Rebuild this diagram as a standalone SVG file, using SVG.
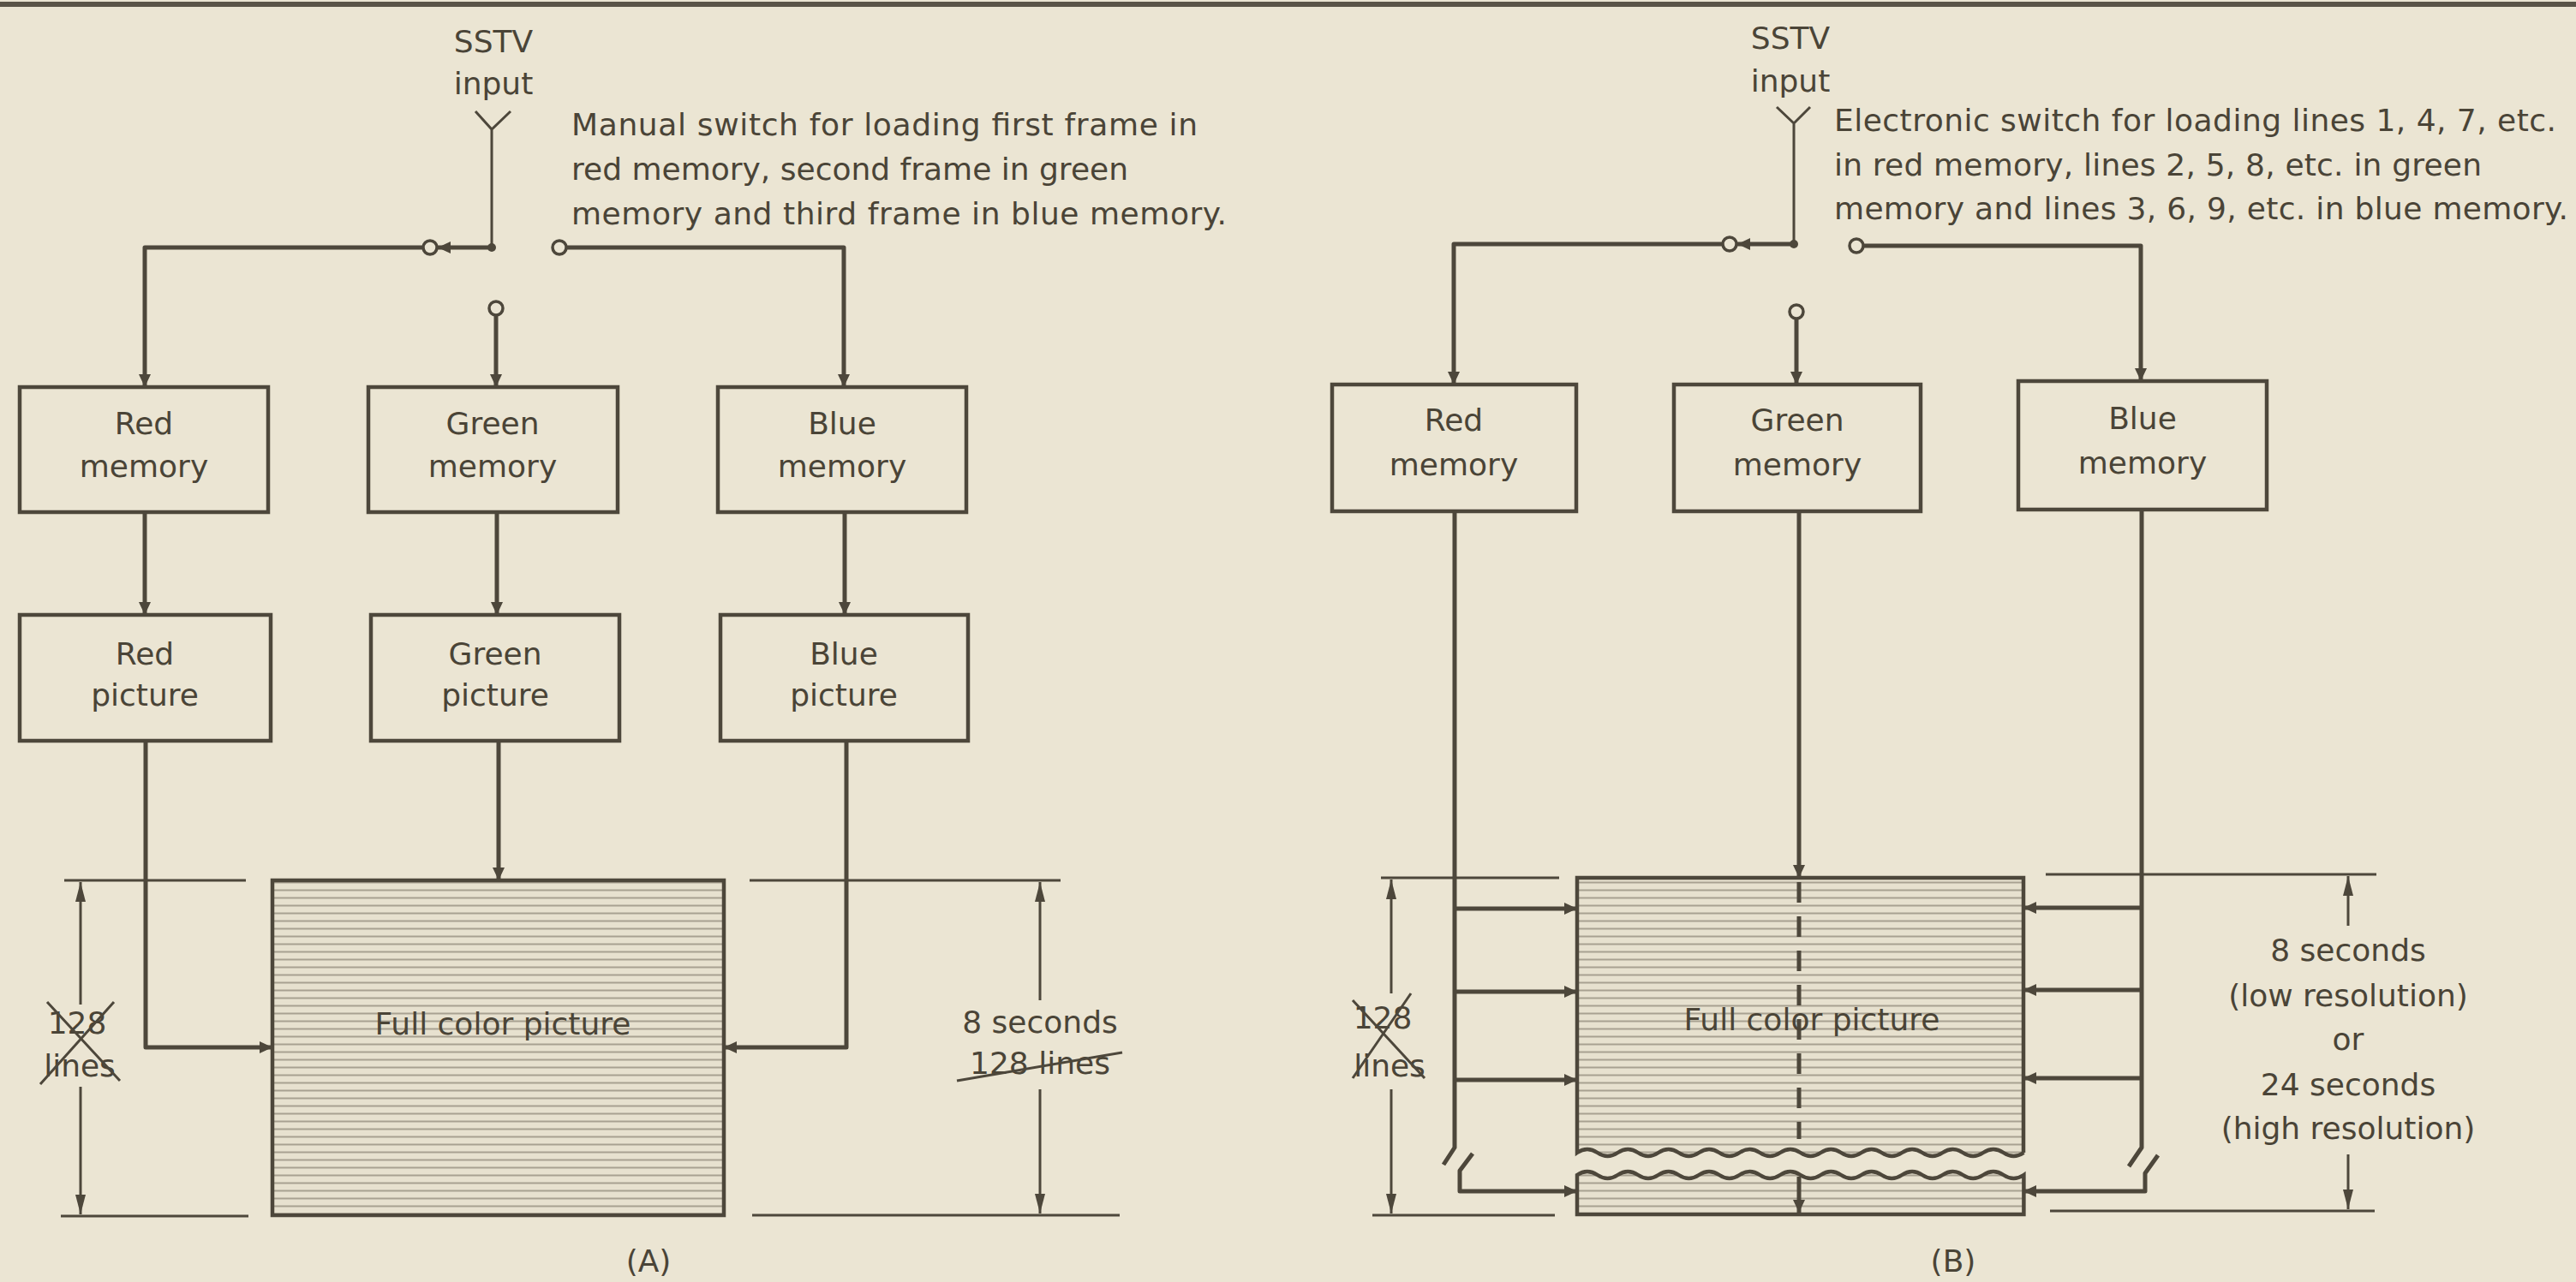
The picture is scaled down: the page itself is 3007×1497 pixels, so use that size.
<svg xmlns="http://www.w3.org/2000/svg" width="3007" height="1497" viewBox="0 0 3007 1497">
<style>
.ln{stroke:#4d473b;fill:none;stroke-width:5;stroke-linejoin:round}
.thin{stroke:#4d473b;fill:none;stroke-width:3}
.box{fill:none;stroke:#4d473b;stroke-width:4.5}
.full{fill:url(#hatch);stroke:#4d473b;stroke-width:4.5}
.ct{fill:#ebe5d3;stroke:#4d473b;stroke-width:3.5}
text{font-family:"DejaVu Sans","Liberation Sans",sans-serif;font-size:36px;fill:#4a4437}
.c{text-anchor:middle}
</style>
<defs>
<marker id="arr" markerUnits="userSpaceOnUse" markerWidth="16" markerHeight="14" refX="15" refY="7" orient="auto"><path d="M0,0 L15,7 L0,14 z" fill="#4d473b"/></marker>
<marker id="dim" markerUnits="userSpaceOnUse" markerWidth="24" markerHeight="14" refX="23" refY="7" orient="auto"><path d="M0,1 L23,7 L0,13 z" fill="#4d473b"/></marker>
<pattern id="hatch" width="12" height="9" patternUnits="userSpaceOnUse"><rect width="12" height="9" fill="#e7e1cf"/><line x1="0" y1="4.5" x2="12" y2="4.5" stroke="#a8a191" stroke-width="2"/></pattern>
</defs>
<rect width="3007" height="1497" fill="#ebe5d3"/>
<line x1="0" y1="5" x2="3007" y2="5" stroke="#5a5448" stroke-width="6"/>

<!-- ===== Panel A ===== -->
<g id="a-input">
<text class="c" x="576" y="61">SSTV</text>
<text class="c" x="576" y="110">input</text>
<path class="thin" d="M555,130 L574,151 L596,130 M574,151 V289"/>
</g>
<g id="a-note">
<text x="667" y="158" textLength="731" lengthAdjust="spacing">Manual switch for loading first frame in</text>
<text x="667" y="210" textLength="650" lengthAdjust="spacing">red memory, second frame in green</text>
<text x="667" y="262" textLength="765" lengthAdjust="spacing">memory and third frame in blue memory.</text>
</g>
<g id="a-switch">
<line class="ln" x1="574" y1="289" x2="511" y2="289" marker-end="url(#arr)"/>
<circle cx="574" cy="289" r="5" fill="#4d473b"/>
<circle class="ct" cx="502" cy="289" r="8"/>
<circle class="ct" cx="653" cy="289" r="8"/>
<circle class="ct" cx="579" cy="360" r="8"/>
</g>
<g id="a-red-memory"><rect class="box" x="23" y="452" width="290" height="146"/><text class="c" x="168" y="507">Red</text><text class="c" x="168" y="557">memory</text></g>
<g id="a-green-memory"><rect class="box" x="430" y="452" width="291" height="146"/><text class="c" x="575" y="507">Green</text><text class="c" x="575" y="557">memory</text></g>
<g id="a-blue-memory"><rect class="box" x="838" y="452" width="290" height="146"/><text class="c" x="983" y="507">Blue</text><text class="c" x="983" y="557">memory</text></g>
<g id="a-red-picture"><rect class="box" x="23" y="718" width="293" height="147"/><text class="c" x="169" y="776">Red</text><text class="c" x="169" y="824">picture</text></g>
<g id="a-green-picture"><rect class="box" x="433" y="718" width="290" height="147"/><text class="c" x="578" y="776">Green</text><text class="c" x="578" y="824">picture</text></g>
<g id="a-blue-picture"><rect class="box" x="841" y="718" width="289" height="147"/><text class="c" x="985" y="776">Blue</text><text class="c" x="985" y="824">picture</text></g>
<g id="a-full-color"><rect class="full" x="318" y="1028" width="527" height="391"/><text class="c" x="587" y="1208">Full color picture</text></g>
<g id="a-dims">
<path class="thin" d="M75,1028 H287 M71,1420 H290 M875,1028 H1238 M878,1419 H1307"/>
<line class="thin" x1="94" y1="1173" x2="94" y2="1030" marker-end="url(#dim)"/>
<line class="thin" x1="94" y1="1269" x2="94" y2="1418" marker-end="url(#dim)"/>
<line class="thin" x1="1214" y1="1168" x2="1214" y2="1030" marker-end="url(#dim)"/>
<line class="thin" x1="1214" y1="1272" x2="1214" y2="1417" marker-end="url(#dim)"/>
<text class="c" x="90" y="1207">128</text>
<text class="c" x="93" y="1257">lines</text>
<path class="thin" d="M55,1170 L140,1262 M133,1170 L47,1266"/>
<text class="c" x="1214" y="1206">8 seconds</text>
<text class="c" x="1214" y="1254">128 lines</text>
<line class="thin" x1="1117" y1="1262" x2="1310" y2="1229"/>
</g>
<text class="c" x="757" y="1485">(A)</text>

<g id="a-connectors">
<path class="ln" d="M494,289 H169 V452" marker-end="url(#arr)"/>
<path class="ln" d="M661,289 H985 V452" marker-end="url(#arr)"/>
<path class="ln" d="M579,368 V452" marker-end="url(#arr)"/>
<path class="ln" d="M169,598 V718" marker-end="url(#arr)"/>
<path class="ln" d="M580,598 V718" marker-end="url(#arr)"/>
<path class="ln" d="M986,598 V718" marker-end="url(#arr)"/>
<path class="ln" d="M170,865 V1223 H318" marker-end="url(#arr)"/>
<path class="ln" d="M582,865 V1028" marker-end="url(#arr)"/>
<path class="ln" d="M988,865 V1223 H845" marker-end="url(#arr)"/>
</g>

<!-- ===== Panel B ===== -->
<g id="b-input">
<text class="c" x="2090" y="57">SSTV</text>
<text class="c" x="2090" y="107">input</text>
<path class="thin" d="M2074,125 L2094,144 L2113,125 M2094,144 V285"/>
</g>
<g id="b-note">
<text x="2141" y="153" textLength="843" lengthAdjust="spacing">Electronic switch for loading lines 1, 4, 7, etc.</text>
<text x="2141" y="205" textLength="756" lengthAdjust="spacing">in red memory, lines 2, 5, 8, etc. in green</text>
<text x="2141" y="256" textLength="857" lengthAdjust="spacing">memory and lines 3, 6, 9, etc. in blue memory.</text>
</g>
<g id="b-switch">
<line class="ln" x1="2094" y1="285" x2="2028" y2="285" marker-end="url(#arr)"/>
<circle cx="2094" cy="285" r="5" fill="#4d473b"/>
<circle class="ct" cx="2019" cy="285" r="8"/>
<circle class="ct" cx="2167" cy="287" r="8"/>
<circle class="ct" cx="2097" cy="364" r="8"/>
</g>
<g id="b-red-memory"><rect class="box" x="1555" y="449" width="285" height="148"/><text class="c" x="1697" y="503">Red</text><text class="c" x="1697" y="555">memory</text></g>
<g id="b-green-memory"><rect class="box" x="1954" y="449" width="288" height="148"/><text class="c" x="2098" y="503">Green</text><text class="c" x="2098" y="555">memory</text></g>
<g id="b-blue-memory"><rect class="box" x="2356" y="445" width="290" height="150"/><text class="c" x="2501" y="501">Blue</text><text class="c" x="2501" y="553">memory</text></g>
<g id="b-full-color">
<path class="full" d="M2362,1346 V1025 H1841 V1346 q11.85,-8 23.7,0 t23.7,0 t23.7,0 t23.7,0 t23.7,0 t23.7,0 t23.7,0 t23.7,0 t23.7,0 t23.7,0 t23.7,0 t23.7,0 t23.7,0 t23.7,0 t23.7,0 t23.7,0 t23.7,0 t23.7,0 t23.7,0 t23.7,0 t23.7,0 t23.7,0"/>
<path class="full" d="M1841,1418 V1372 q11.85,-8 23.7,0 t23.7,0 t23.7,0 t23.7,0 t23.7,0 t23.7,0 t23.7,0 t23.7,0 t23.7,0 t23.7,0 t23.7,0 t23.7,0 t23.7,0 t23.7,0 t23.7,0 t23.7,0 t23.7,0 t23.7,0 t23.7,0 t23.7,0 t23.7,0 t23.7,0 V1418 Z"/>
<line x1="2100" y1="1030" x2="2100" y2="1330" stroke="#4d473b" stroke-width="5" stroke-dasharray="24 16"/>
<text class="c" x="2115" y="1203">Full color picture</text>
<line class="ln" x1="2100" y1="1374" x2="2100" y2="1416" marker-end="url(#arr)"/>
</g>
<g id="b-dims">
<path class="thin" d="M1612,1025 H1820 M1602,1419 H1815 M2388,1021 H2774 M2393,1414 H2772"/>
<line class="thin" x1="1624" y1="1160" x2="1624" y2="1027" marker-end="url(#dim)"/>
<line class="thin" x1="1624" y1="1272" x2="1624" y2="1417" marker-end="url(#dim)"/>
<line class="thin" x1="2741" y1="1081" x2="2741" y2="1023" marker-end="url(#dim)"/>
<line class="thin" x1="2741" y1="1348" x2="2741" y2="1412" marker-end="url(#dim)"/>
<text class="c" x="1614" y="1201">128</text>
<text class="c" x="1622" y="1257">lines</text>
<path class="thin" d="M1579,1168 L1663,1259 M1647,1160 L1579,1259"/>
<text class="c" x="2741" y="1122">8 seconds</text>
<text class="c" x="2741" y="1175">(low resolution)</text>
<text class="c" x="2741" y="1226">or</text>
<text class="c" x="2741" y="1279">24 seconds</text>
<text class="c" x="2741" y="1330">(high resolution)</text>
</g>
<text class="c" x="2280" y="1485">(B)</text>

<g id="b-connectors">
<path class="ln" d="M2011,285 H1697 V449" marker-end="url(#arr)"/>
<path class="ln" d="M2175,287 H2499 V445" marker-end="url(#arr)"/>
<path class="ln" d="M2097,372 V449" marker-end="url(#arr)"/>
<path class="ln" d="M2100,597 V1025" marker-end="url(#arr)"/>
<path class="ln" d="M1698,597 V1340 L1685,1360"/>
<path class="ln" d="M1719,1347 L1704,1367 V1391 H1841" marker-end="url(#arr)"/>
<path class="ln" d="M1698,1061 H1841" marker-end="url(#arr)"/>
<path class="ln" d="M1698,1158 H1841" marker-end="url(#arr)"/>
<path class="ln" d="M1698,1261 H1841" marker-end="url(#arr)"/>
<path class="ln" d="M2500,595 V1340 L2485,1362"/>
<path class="ln" d="M2519,1349 L2504,1370 V1391 H2362" marker-end="url(#arr)"/>
<path class="ln" d="M2500,1060 H2362" marker-end="url(#arr)"/>
<path class="ln" d="M2500,1156 H2362" marker-end="url(#arr)"/>
<path class="ln" d="M2500,1259 H2362" marker-end="url(#arr)"/>
</g>
</svg>
